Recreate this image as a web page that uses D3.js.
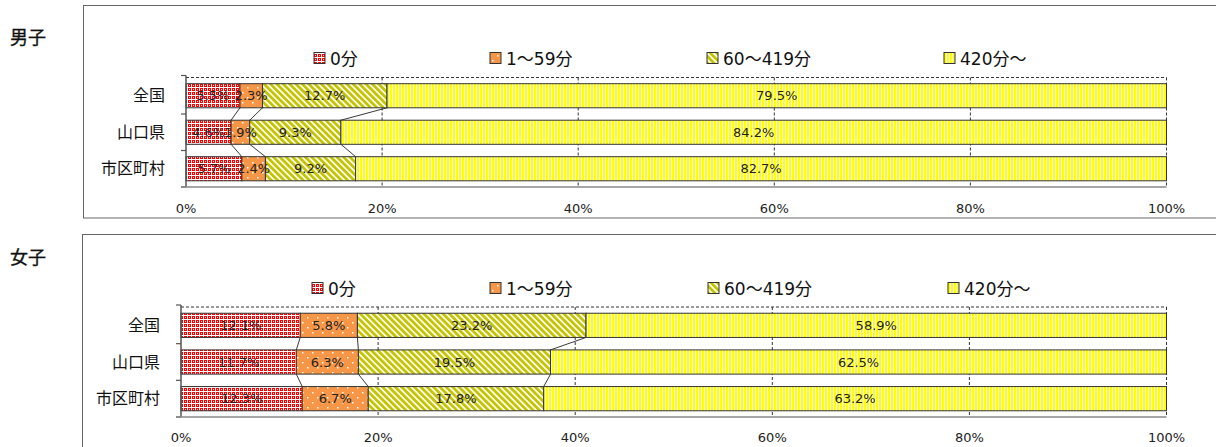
<!DOCTYPE html>
<html><head><meta charset="utf-8">
<script src="https://cdn.jsdelivr.net/npm/d3@7"></script>
<style>
html,body{margin:0;padding:0;background:#fff;}
text{font-family:"DejaVu Sans","Noto Sans CJK JP",sans-serif;}
</style></head>
<body><svg id="c" width="1216" height="447"></svg>
<script>
// ---- data ----
const categories = ["全国", "山口県", "市区町村"];
const seriesNames = ["0分", "1～59分", "60～419分", "420分～"];
const boys0 = [5.5, 4.6, 5.7];
const boys1 = [2.3, 1.9, 2.4];
const boys60 = [12.7, 9.3, 9.2];
const boys420 = [79.5, 84.2, 82.7];
const girls0 = [12.1, 11.7, 12.3];
const girls1 = [5.8, 6.3, 6.7];
const girls60 = [23.2, 19.5, 17.8];
const girls420 = [58.9, 62.5, 63.2];
const tickValues = [0, 20, 40, 60, 80, 100];
const tickLabels = ["0%", "20%", "40%", "60%", "80%", "100%"];
const panelTitles = ["男子", "女子"];

const svg = d3.select("#c");
const defs = svg.append("defs");

// patterns
const p0 = defs.append("pattern").attr("id","pat0").attr("patternUnits","userSpaceOnUse").attr("width",4).attr("height",4);
p0.append("rect").attr("width",4).attr("height",4).attr("fill","#fff");
p0.append("rect").attr("x",0).attr("y",0).attr("width",3).attr("height",3).attr("fill","#ff0000");
p0.append("rect").attr("x",1).attr("y",1).attr("width",1).attr("height",1).attr("fill","#ffd0d0");

const p1 = defs.append("pattern").attr("id","pat1").attr("patternUnits","userSpaceOnUse").attr("width",10).attr("height",10);
p1.append("rect").attr("width",10).attr("height",10).attr("fill","#f79646");
p1.append("rect").attr("x",2).attr("y",2).attr("width",1.5).attr("height",1.5).attr("fill","#fff");
p1.append("rect").attr("x",7).attr("y",7).attr("width",1.5).attr("height",1.5).attr("fill","#fff");

const p2 = defs.append("pattern").attr("id","pat2").attr("patternUnits","userSpaceOnUse").attr("width",4.5).attr("height",10).attr("patternTransform","rotate(-45)");
p2.append("rect").attr("width",4.5).attr("height",10).attr("fill","#fff");
p2.append("rect").attr("width",2.8).attr("height",10).attr("fill","#c4c400");

const p3 = defs.append("pattern").attr("id","pat3").attr("patternUnits","userSpaceOnUse").attr("width",3).attr("height",10);
p3.append("rect").attr("width",3).attr("height",10).attr("fill","#fff");
p3.append("rect").attr("width",2).attr("height",10).attr("fill","#ffff00");

const fills = ["url(#pat0)","url(#pat1)","url(#pat2)","url(#pat3)"];

const panels = [
  {title: panelTitles[0], series:[boys0,boys1,boys60,boys420], x0:186, x1:1166.5, y0:77.5, y1:187,
   box:{x:83.5,y:5.5,h:212.5}, titleY:37, legendY:58, legendX:[314,490,707,944], axisY:208},
  {title: panelTitles[1], series:[girls0,girls1,girls60,girls420], x0:181, x1:1166.5, y0:307, y1:417,
   box:{x:82.5,y:234.5,h:240}, titleY:257, legendY:288, legendX:[312,490,708,948], axisY:437}
];

panels.forEach(P => {
  const g = svg.append("g");
  g.append("rect").attr("x",P.box.x).attr("y",P.box.y).attr("width",1216-P.box.x+10).attr("height",P.box.h)
    .attr("fill","none").attr("stroke","#666").attr("stroke-width",1);
  g.append("text").attr("x",10).attr("y",P.titleY).attr("dominant-baseline","central")
    .attr("font-size",18).attr("fill","#111").attr("stroke","#111").attr("stroke-width",0.35).text(P.title);

  const x = d3.scaleLinear().domain([0,100]).range([P.x0,P.x1]);
  const y = d3.scaleBand().domain(categories).range([P.y0,P.y1]).paddingInner(0.34).paddingOuter(0.17);

  g.append("g").selectAll("line").data(tickValues.filter(v=>v>0)).join("line")
    .attr("x1",d=>x(d)).attr("x2",d=>x(d)).attr("y1",P.y0).attr("y2",P.y1)
    .attr("stroke","#333").attr("stroke-width",1).attr("stroke-dasharray","3,2");
  g.append("line").attr("x1",P.x0).attr("x2",P.x1).attr("y1",P.y0).attr("y2",P.y0)
    .attr("stroke","#333").attr("stroke-width",1).attr("stroke-dasharray","3,2");

  const rows = categories.map((c,i)=>{
    let acc=0;
    return P.series.map((s,k)=>{ const st=acc; acc+=s[i]; return {cat:c, k, v:s[i], start:st, end:acc}; });
  });

  for (let i=0;i<categories.length-1;i++){
    for (let k=0;k<3;k++){
      g.append("line")
        .attr("x1",x(rows[i][k].end)).attr("y1",y(categories[i])+y.bandwidth())
        .attr("x2",x(rows[i+1][k].end)).attr("y2",y(categories[i+1]))
        .attr("stroke","#222").attr("stroke-width",0.9);
    }
  }

  const segs = rows.flat();
  g.append("g").selectAll("rect").data(segs).join("rect")
    .attr("x",d=>x(d.start)).attr("width",d=>x(d.end)-x(d.start))
    .attr("y",d=>y(d.cat)).attr("height",y.bandwidth())
    .attr("fill",d=>fills[d.k]).attr("stroke","#333").attr("stroke-width",1);

  g.append("g").selectAll("text").data(segs).join("text")
    .attr("x",d=>x((d.start+d.end)/2)).attr("y",d=>y(d.cat)+y.bandwidth()/2)
    .attr("text-anchor","middle").attr("dominant-baseline","central")
    .attr("font-size",13).attr("fill","#222").text(d=>d.v.toFixed(1)+"%");

  const yAxisG = g.append("g");
  yAxisG.append("line").attr("x1",P.x0).attr("x2",P.x0).attr("y1",P.y0-2).attr("y2",P.y1)
    .attr("stroke","#555").attr("stroke-width",1.5);
  const bnd = [P.y0-2].concat(categories.slice(1).map(c=>y(c)-y.step()*y.paddingInner()/2)).concat([P.y1]);
  yAxisG.selectAll("line.t").data(bnd).join("line").attr("class","t")
    .attr("x1",P.x0-5).attr("x2",P.x0).attr("y1",d=>d).attr("y2",d=>d)
    .attr("stroke","#555").attr("stroke-width",1.2);
  yAxisG.selectAll("text").data(categories).join("text")
    .attr("x",P.x0-21).attr("y",d=>y(d)+y.bandwidth()/2).attr("text-anchor","end")
    .attr("dominant-baseline","central").attr("font-size",16).attr("fill","#111").text(d=>d);

  g.append("line").attr("x1",P.x0-5).attr("x2",P.x1).attr("y1",P.y1).attr("y2",P.y1)
    .attr("stroke","#888").attr("stroke-width",1.5);
  g.append("g").selectAll("text").data(tickValues).join("text")
    .attr("x",d=>x(d)).attr("y",P.axisY).attr("text-anchor","middle").attr("dominant-baseline","central")
    .attr("font-size",13).attr("fill","#222").text((d,i)=>tickLabels[i]);

  const lg = g.append("g").selectAll("g").data(seriesNames).join("g")
    .attr("transform",(d,i)=>`translate(${P.legendX[i]},${P.legendY})`);
  lg.append("rect").attr("x",0).attr("y",-5.5).attr("width",11).attr("height",11)
    .attr("fill",(d,i)=>fills[i]).attr("stroke","#333").attr("stroke-width",1);
  lg.append("text").attr("x",16).attr("y",1).attr("dominant-baseline","central")
    .attr("font-size",17).attr("fill","#111").text(d=>d);
});
</script></body></html>
